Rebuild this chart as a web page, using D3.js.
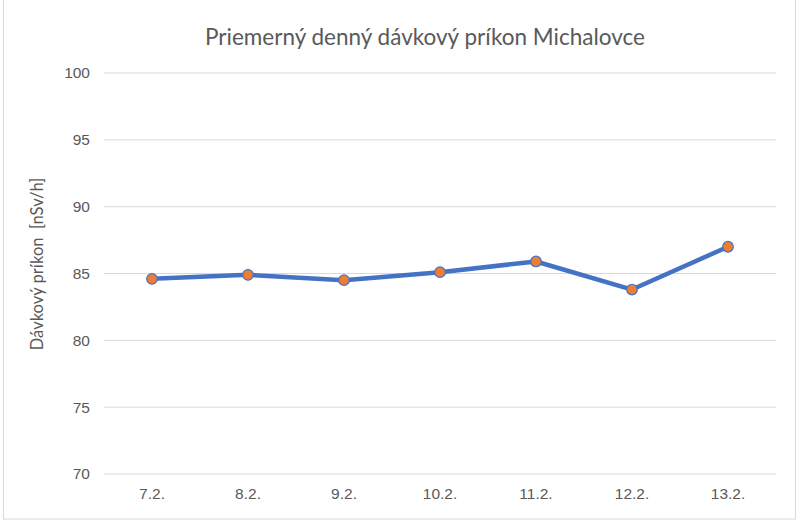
<!DOCTYPE html>
<html><head><meta charset="utf-8">
<script src="https://cdn.jsdelivr.net/npm/d3@7"></script>
<style>body{margin:0;background:#fff;}svg{display:block;font-family:Lato,"Open Sans",sans-serif;}</style>
</head><body>
<svg id="c" width="800" height="525"></svg>
<script>
const categories = ["7.2.","8.2.","9.2.","10.2.","11.2.","12.2.","13.2."];
const values = [84.6, 84.9, 84.5, 85.1, 85.9, 83.8, 87.0];
const yTicks = [70,75,80,85,90,95,100];
const title = "Priemerný denný dávkový príkon Michalovce";
const yTitle = "Dávkový príkon  [nSv/h]";

const svg = d3.select("#c");
svg.append("rect").attr("x",3.5).attr("y",-1).attr("width",792).attr("height",520)
  .attr("fill","#fff").attr("stroke","#d9d9d9");
const L=104, R=776, T=73, B=474;
const x = d3.scaleBand().domain(categories).range([L,R]);
const y = d3.scaleLinear().domain([70,100]).range([B,T]);

const g = svg.append("g");
g.selectAll("line.grid").data(yTicks).join("line")
  .attr("x1",L).attr("x2",R).attr("y1",d=>y(d)).attr("y2",d=>y(d))
  .attr("stroke","#d9d9d9").attr("stroke-width",1);

const ya = svg.append("g").attr("transform",`translate(${L},0)`)
  .call(d3.axisLeft(y).tickValues(yTicks).tickSize(0).tickPadding(14));
ya.select(".domain").remove();
ya.selectAll("text").attr("fill","#595959").style("font-size","15.5px");

const xa = svg.append("g").attr("transform",`translate(0,${B})`)
  .call(d3.axisBottom(x).tickSize(0).tickPadding(14));
xa.select(".domain").remove();
xa.selectAll("text").attr("fill","#595959").style("font-size","15.5px");

const line = d3.line().x((d,i)=>x(categories[i])+x.bandwidth()/2).y(d=>y(d));
svg.append("path").datum(values).attr("d",line).attr("fill","none")
  .attr("stroke","#4472C4").attr("stroke-width",4.5).attr("stroke-linejoin","round").attr("stroke-linecap","round");
svg.selectAll("circle.pt").data(values).join("circle")
  .attr("cx",(d,i)=>x(categories[i])+x.bandwidth()/2).attr("cy",d=>y(d)).attr("r",5.3)
  .attr("fill","#ED7D31").attr("stroke","#4472C4").attr("stroke-width",1.2);

svg.append("text").attr("x",425).attr("y",45).attr("text-anchor","middle")
  .attr("fill","#595959").style("font-size","22.5px").text(title);
svg.append("text").attr("transform","translate(43,264) rotate(-90)").attr("text-anchor","middle")
  .attr("fill","#595959").style("font-size","16.5px").style("white-space","pre").text(yTitle);
</script>
</body></html>
